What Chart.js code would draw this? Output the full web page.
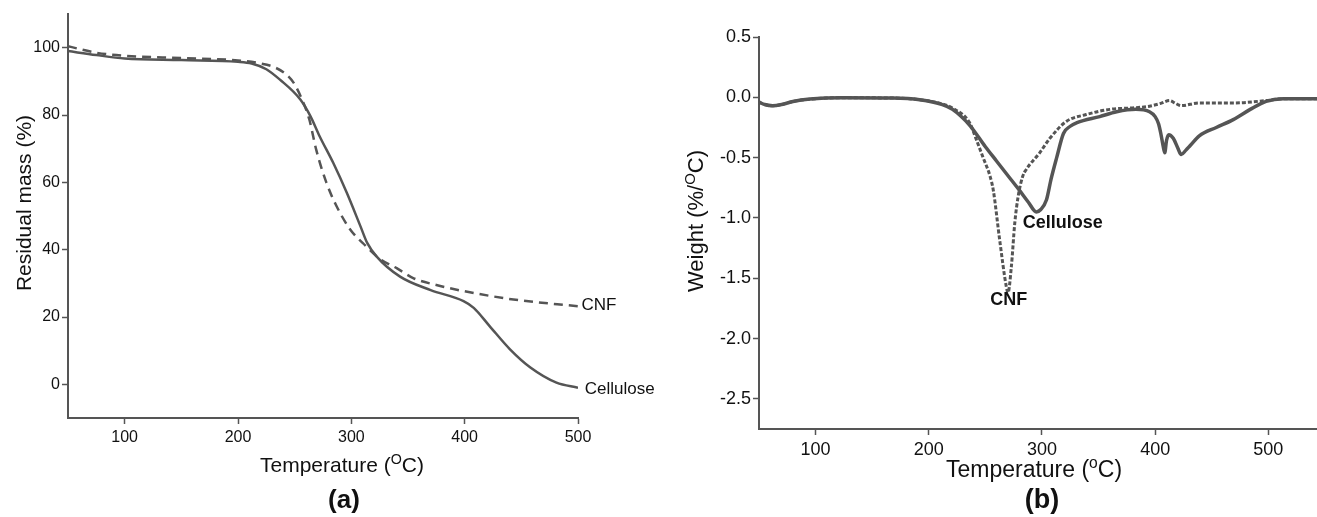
<!DOCTYPE html>
<html>
<head>
<meta charset="utf-8">
<script src="https://cdn.jsdelivr.net/npm/chart.js@4.4.1/dist/chart.umd.min.js"></script>
<style>
  body { margin: 0; background: #fff; }
  #wrap { position: relative; width: 1317px; height: 517px; overflow: hidden; }
  canvas { position: absolute; top: 0; display: block; }
</style>
</head>
<body>
<div id="wrap">
  <canvas id="chartA" width="660" height="517" style="left:0"></canvas>
  <canvas id="chartB" width="657" height="517" style="left:660px"></canvas>
</div>
<script>
// (a) TGA - residual mass
const celluloseTempA = [50, 75, 100, 150, 200, 212, 225, 237, 255, 264, 272, 284, 296, 308, 314, 322, 343, 370, 399, 408, 422, 440, 458, 481, 500];
const celluloseMassA = [99, 97.8, 96.8, 96.3, 95.8, 95.3, 93.6, 90.5, 84.6, 79.6, 73.7, 65.8, 56.9, 47, 42, 38.1, 32, 28, 24.7, 22.7, 17.3, 10.4, 5.0, 0.5, -1.0];
const cnfTempA = [50, 75, 100, 150, 200, 220, 232, 242, 249, 256, 263, 269, 278, 287, 299, 313, 325, 340, 355, 375, 399, 443, 500];
const cnfMassA = [100.4, 98.5, 97.6, 96.9, 96.2, 95.3, 94.2, 92.2, 89.6, 85, 78.6, 69.7, 59.9, 52.9, 46, 41, 37.3, 34.5, 31.5, 29.5, 27.7, 25.2, 23.2];
const xTicksA = [100, 200, 300, 400, 500];
const yTicksA = [0, 20, 40, 60, 80, 100];

// (b) DTG - derivative weight
const celluloseTempB = [50, 55, 62, 70, 80, 95, 124, 168, 192, 212, 221, 236, 250, 260, 270, 280, 288, 295, 299, 304, 308, 313, 319, 325, 331, 351, 366, 383, 395, 400, 403, 405, 407, 408.5, 410, 412, 416, 420, 423, 427, 431, 439, 454, 469, 484, 498, 513, 543];
const celluloseRateB = [-0.04, -0.06, -0.07, -0.06, -0.035, -0.015, -0.004, -0.006, -0.02, -0.06, -0.10, -0.23, -0.41, -0.53, -0.65, -0.77, -0.87, -0.95, -0.93, -0.85, -0.68, -0.5, -0.3, -0.24, -0.21, -0.16, -0.12, -0.1, -0.12, -0.16, -0.22, -0.3, -0.4, -0.46, -0.36, -0.31, -0.34, -0.42, -0.475, -0.44, -0.4, -0.32, -0.25, -0.185, -0.1, -0.033, -0.011, -0.011];
const cnfTempB = [50, 55, 62, 70, 80, 95, 124, 168, 192, 212, 221, 236, 242, 248, 254, 257, 262.6, 268.5, 270, 273, 276, 279, 283, 286, 298, 307, 321.5, 339, 360, 380, 395, 405, 412.8, 418, 423, 439, 469, 498, 513, 543];
const cnfRateB = [-0.04, -0.06, -0.07, -0.06, -0.035, -0.015, -0.004, -0.006, -0.02, -0.055, -0.09, -0.21, -0.35, -0.5, -0.65, -0.77, -1.18, -1.57, -1.62, -1.40, -1.04, -0.82, -0.655, -0.6, -0.46, -0.34, -0.2, -0.143, -0.1, -0.088, -0.074, -0.05, -0.027, -0.05, -0.069, -0.047, -0.047, -0.027, -0.011, -0.011];
const xTicksB = [100, 200, 300, 400, 500];
const yTicksB = [0.5, 0, -0.5, -1, -1.5, -2, -2.5];

const FONT = "'Liberation Sans', Arial, sans-serif";
const LINE = '#555';
const INK = '#111';

function pts(xs, ys) {
  return xs.map((x, i) => ({ x: x, y: ys[i] }));
}

// draw a run of text pieces, some of them superscript
function drawParts(ctx, parts, x, y, size, weight) {
  const widths = parts.map(p => {
    ctx.font = weight + ' ' + (p[1] ? size * 0.68 : size) + 'px ' + FONT;
    return ctx.measureText(p[0]).width;
  });
  let cx = x - widths.reduce((a, b) => a + b, 0) / 2;
  parts.forEach((p, i) => {
    ctx.font = weight + ' ' + (p[1] ? size * 0.68 : size) + 'px ' + FONT;
    ctx.fillText(p[0], cx, p[1] ? y - size * 0.38 : y);
    cx += widths[i];
  });
}

const decoPlugin = {
  id: 'deco',
  afterDraw(chart, args, o) {
    const ctx = chart.ctx;
    ctx.save();
    ctx.fillStyle = INK;
    ctx.textAlign = 'left';
    ctx.textBaseline = 'alphabetic';
    drawParts(ctx, o.xTitle, o.xTitlePos[0], o.xTitlePos[1], o.xTitleSize, 'normal');
    ctx.save();
    ctx.translate(o.yTitlePos[0], o.yTitlePos[1]);
    ctx.rotate(-Math.PI / 2);
    drawParts(ctx, o.yTitle, 0, 0, o.yTitleSize, 'normal');
    ctx.restore();
    drawParts(ctx, [[o.letter, false]], o.letterPos[0], o.letterPos[1], o.letterSize, 'bold');
    const xs = chart.scales.x, ys = chart.scales.y;
    o.notes.forEach(n => {
      ctx.font = n.weight + ' ' + n.size + 'px ' + FONT;
      ctx.textAlign = n.align;
      ctx.textBaseline = 'middle';
      ctx.fillText(n.text, xs.getPixelForValue(n.x), ys.getPixelForValue(n.y));
    });
    ctx.restore();
  }
};

function axis(min, max, ticks, fmt, size, fit, pad) {
  return {
    type: 'linear', min: min, max: max,
    afterBuildTicks: s => { s.ticks = ticks.map(v => ({ value: v })); },
    afterFit: fit,
    grid: { display: true, drawOnChartArea: false, drawTicks: true, tickLength: 6, tickWidth: 1.5, tickColor: LINE },
    border: { display: true, color: LINE, width: 2 },
    ticks: { color: INK, font: { family: FONT, size: size }, padding: pad, autoSkip: false, maxRotation: 0, callback: fmt }
  };
}

function line(data, width, dash) {
  return {
    data: data, borderColor: LINE, borderWidth: width, borderDash: dash,
    pointRadius: 0, fill: false, cubicInterpolationMode: 'monotone'
  };
}

new Chart(document.getElementById('chartA'), {
  type: 'line',
  data: {
    datasets: [
      line(pts(celluloseTempA, celluloseMassA), 2.5, []),
      line(pts(cnfTempA, cnfMassA), 2.5, [9, 6])
    ]
  },
  options: {
    responsive: false, animation: false, devicePixelRatio: 1,
    layout: { padding: { top: 14, right: 82, left: 0, bottom: 0 } },
    plugins: {
      legend: { display: false }, tooltip: { enabled: false },
      deco: {
        xTitle: [['Temperature (', false], ['O', true], ['C)', false]], xTitlePos: [342, 472], xTitleSize: 21,
        yTitle: [['Residual mass (%)', false]], yTitlePos: [31, 203], yTitleSize: 21,
        letter: '(a)', letterPos: [344, 508], letterSize: 26,
        notes: [
          { text: 'CNF', x: 503, y: 23.4, align: 'left', size: 17, weight: 'normal' },
          { text: 'Cellulose', x: 506, y: -1.5, align: 'left', size: 17, weight: 'normal' }
        ]
      }
    },
    scales: {
      x: axis(50, 500, xTicksA, v => String(v), 16, s => { s.height = 99; }, 4),
      y: axis(-10, 110, yTicksA, v => String(v), 16, s => { s.width = 68; }, 2)
    }
  },
  plugins: [decoPlugin]
});

new Chart(document.getElementById('chartB'), {
  type: 'line',
  data: {
    datasets: [
      line(pts(celluloseTempB, celluloseRateB), 3.5, []),
      line(pts(cnfTempB, cnfRateB), 3, [4, 2])
    ]
  },
  options: {
    responsive: false, animation: false, devicePixelRatio: 1,
    layout: { padding: { top: 37, right: 0, left: 0, bottom: 0 } },
    plugins: {
      legend: { display: false }, tooltip: { enabled: false },
      deco: {
        xTitle: [['Temperature (', false], ['o', true], ['C)', false]], xTitlePos: [374, 477], xTitleSize: 23,
        yTitle: [['Weight (%/', false], ['O', true], ['C)', false]], yTitlePos: [43, 221], yTitleSize: 22,
        letter: '(b)', letterPos: [382, 508], letterSize: 27,
        notes: [
          { text: 'Cellulose', x: 283, y: -1.04, align: 'left', size: 18, weight: 'bold' },
          { text: 'CNF', x: 270.6, y: -1.68, align: 'center', size: 18, weight: 'bold' }
        ]
      }
    },
    scales: {
      x: axis(50, 543, xTicksB, v => String(v), 18, s => { s.height = 88; }, 4),
      y: axis(-2.75, 0.5, yTicksB, v => v.toFixed(1), 18, s => { s.width = 99; }, 2)
    }
  },
  plugins: [decoPlugin]
});
</script>
</body>
</html>
